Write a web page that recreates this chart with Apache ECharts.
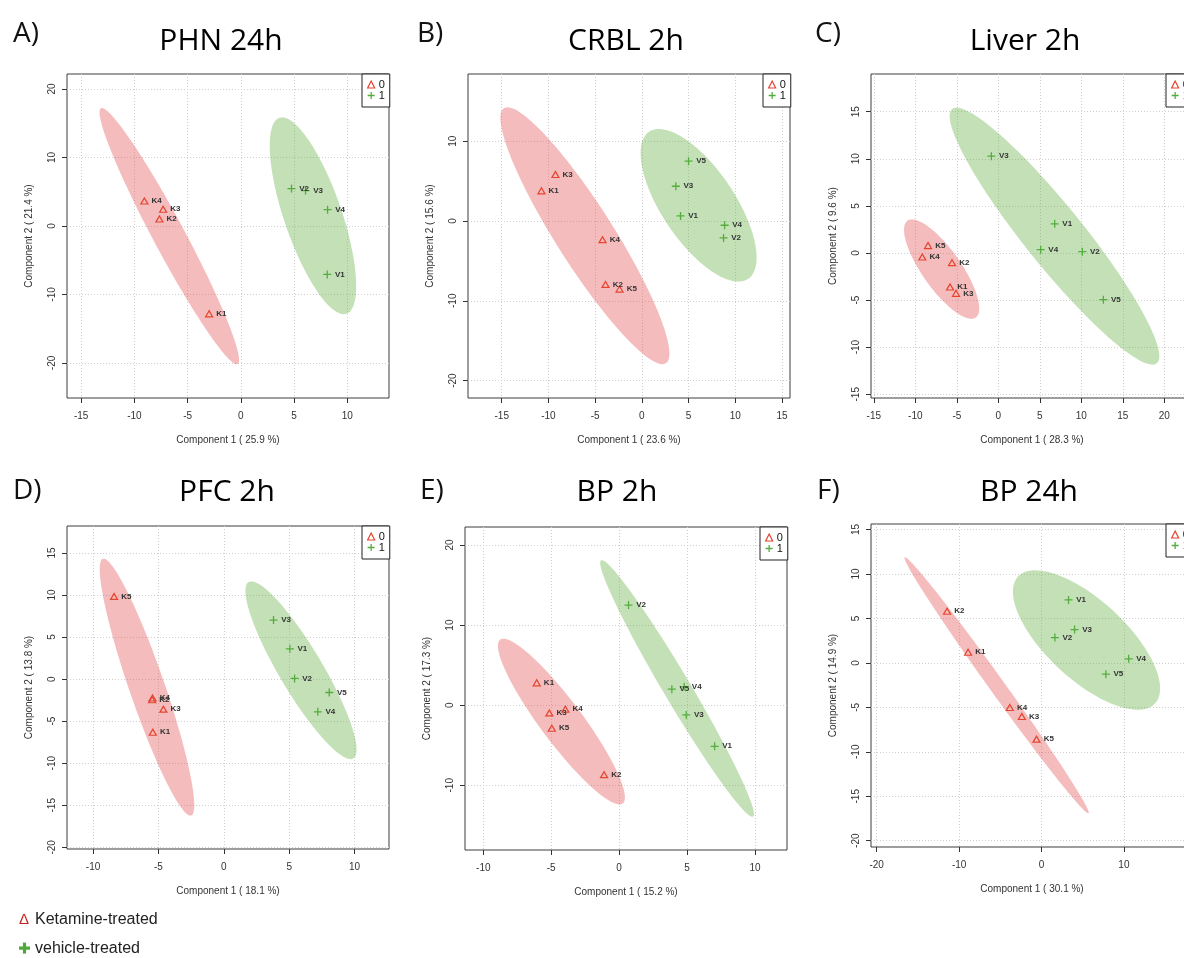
<!DOCTYPE html>
<html>
<head>
<meta charset="utf-8">
<script src="https://cdn.jsdelivr.net/npm/echarts@6/dist/echarts.min.js"></script>
<style>
  html, body { margin: 0; padding: 0; background: #ffffff; }
  #chart { width: 1184px; height: 958px; }
</style>
</head>
<body>
<div id="chart"></div>
<script>
// ---- panel headings and explained variance ----
const panelLetters = ['A)', 'B)', 'C)', 'D)', 'E)', 'F)'];
const panelTitles  = ['PHN 24h', 'CRBL 2h', 'Liver 2h', 'PFC 2h', 'BP 2h', 'BP 24h'];
const comp1Var = ['25.9', '23.6', '28.3', '18.1', '15.2', '30.1'];
const comp2Var = ['21.4', '15.6', '9.6', '13.8', '17.3', '14.9'];

// ---- sample scores [id, component 1, component 2] ----
const phn24Ket = [['K1', -2.98, -12.83], ['K2', -7.65, 1.02], ['K3', -7.30, 2.44], ['K4', -9.06, 3.66]];
const phn24Veh = [['V1', 8.12, -7.07], ['V2', 4.76, 5.46], ['V3', 6.08, 5.17], ['V4', 8.15, 2.39]];

const crbl2Ket = [['K1', -10.75, 3.77], ['K2', -3.89, -7.95], ['K3', -9.25, 5.82], ['K4', -4.21, -2.34], ['K5', -2.39, -8.54]];
const crbl2Veh = [['V1', 4.14, 0.63], ['V2', 8.75, -2.13], ['V3', 3.64, 4.35], ['V4', 8.86, -0.54], ['V5', 5.00, 7.49]];

const liver2Ket = [['K1', -5.82, -3.62], ['K2', -5.58, -1.03], ['K3', -5.10, -4.29], ['K4', -9.16, -0.43], ['K5', -8.47, 0.78]];
const liver2Veh = [['V1', 6.79, 3.09], ['V2', 10.12, 0.14], ['V3', -0.84, 10.28], ['V4', 5.10, 0.35], ['V5', 12.65, -4.96]];

const pfc2Ket = [['K1', -5.43, -6.31], ['K2', -5.48, -2.45], ['K3', -4.62, -3.57], ['K4', -5.45, -2.25], ['K5', -8.39, 9.84]];
const pfc2Veh = [['V1', 5.05, 3.61], ['V2', 5.41, 0.08], ['V3', 3.80, 7.02], ['V4', 7.19, -3.89], ['V5', 8.06, -1.59]];

const bp2Ket = [['K1', -6.07, 2.79], ['K2', -1.11, -8.67], ['K3', -5.14, -0.96], ['K4', -3.96, -0.50], ['K5', -4.96, -2.88]];
const bp2Veh = [['V1', 7.03, -5.13], ['V2', 0.69, 12.50], ['V3', 4.94, -1.21], ['V4', 4.79, 2.29], ['V5', 3.88, 2.00]];

const bp24Ket = [['K1', -8.91, 1.20], ['K2', -11.46, 5.81], ['K3', -2.39, -6.03], ['K4', -3.85, -5.02], ['K5', -0.61, -8.58]];
const bp24Veh = [['V1', 3.28, 7.08], ['V2', 1.62, 2.85], ['V3', 4.01, 3.75], ['V4', 10.57, 0.45], ['V5', 7.81, -1.27]];

// ---- 95% group ellipses: [upper tip x, upper tip y, lower tip x, lower tip y, half width] ----
const phn24KetEllipse  = [-13.10, 17.22, -0.34, -20.20, 1.60];
const phn24VehEllipse  = [3.77, 15.85, 9.78, -12.87, 2.79];
const crbl2KetEllipse  = [-14.69, 14.17, 2.50, -17.87, 3.20];
const crbl2VehEllipse  = [1.00, 11.32, 11.15, -7.40, 4.07];
const liver2KetEllipse = [-11.02, 3.37, -2.64, -6.80, 2.23];
const liver2VehEllipse = [-5.62, 15.23, 19.15, -11.67, 3.36];
const pfc2KetEllipse   = [-9.22, 14.33, -2.53, -16.23, 1.40];
const pfc2VehEllipse   = [2.00, 11.60, 9.80, -9.50, 1.80];
const bp2KetEllipse    = [-8.64, 8.28, 0.14, -12.37, 1.75];
const bp2VehEllipse    = [-1.30, 18.11, 9.83, -13.93, 1.10];
const bp24KetEllipse   = [-16.60, 11.87, 5.71, -16.92, 0.90];
const bp24VehEllipse   = [-2.98, 9.57, 13.89, -4.43, 4.60];

// ---- tick labels ----
const phn24XTicks = [-15, -10, -5, 0, 5, 10];
const phn24YTicks = [-20, -10, 0, 10, 20];
const crbl2XTicks = [-15, -10, -5, 0, 5, 10, 15];
const crbl2YTicks = [-20, -10, 0, 10];
const liver2XTicks = [-15, -10, -5, 0, 5, 10, 15, 20];
const liver2YTicks = [-15, -10, -5, 0, 5, 10, 15];
const pfc2XTicks = [-10, -5, 0, 5, 10];
const pfc2YTicks = [-20, -15, -10, -5, 0, 5, 10, 15];
const bp2XTicks = [-10, -5, 0, 5, 10];
const bp2YTicks = [-10, 0, 10, 20];
const bp24XTicks = [-20, -10, 0, 10];
const bp24YTicks = [-20, -15, -10, -5, 0, 5, 10, 15];

// ---- panel layout: plot box in pixels and visible axis ranges ----
const panels = [
  { ket: phn24Ket,  veh: phn24Veh,  ketE: phn24KetEllipse,  vehE: phn24VehEllipse,  xt: phn24XTicks,  yt: phn24YTicks,  box: [67, 74, 322, 324],  xr: [-16.33, 13.92], yr: [-25.12, 22.2],  letter: [13, 37],  title: [221, 41] },
  { ket: crbl2Ket,  veh: crbl2Veh,  ketE: crbl2KetEllipse,  vehE: crbl2VehEllipse,  xt: crbl2XTicks,  yt: crbl2YTicks,  box: [468, 74, 322, 324], xr: [-18.61, 15.86], yr: [-22.18, 18.41], letter: [417, 37], title: [626, 41] },
  { ket: liver2Ket, veh: liver2Veh, ketE: liver2KetEllipse, vehE: liver2VehEllipse, xt: liver2XTicks, yt: liver2YTicks, box: [871, 74, 322, 324], xr: [-15.34, 23.45], yr: [-15.4, 19.0],   letter: [815, 37], title: [1025, 41] },
  { ket: pfc2Ket,   veh: pfc2Veh,   ketE: pfc2KetEllipse,   vehE: pfc2VehEllipse,   xt: pfc2XTicks,   yt: pfc2YTicks,   box: [67, 526, 322, 323], xr: [-11.99, 12.63], yr: [-20.2, 18.21],  letter: [13, 494], title: [227, 492] },
  { ket: bp2Ket,    veh: bp2Veh,    ketE: bp2KetEllipse,    vehE: bp2VehEllipse,    xt: bp2XTicks,    yt: bp2YTicks,    box: [465, 527, 322, 323], xr: [-11.35, 12.36], yr: [-18.08, 22.25], letter: [420, 494], title: [617, 492] },
  { ket: bp24Ket,   veh: bp24Veh,   ketE: bp24KetEllipse,   vehE: bp24VehEllipse,   xt: bp24XTicks,   yt: bp24YTicks,   box: [871, 524, 322, 323], xr: [-20.69, 18.38], yr: [-20.71, 15.62], letter: [817, 494], title: [1029, 492] }
];

const RED = '#e5452f';
const GREEN = '#56ad3f';
const PINK_FILL = 'rgba(224,64,64,0.35)';
const GREEN_FILL = 'rgba(84,166,49,0.35)';
const PLOT_FONT = '"Liberation Sans", Arial, sans-serif';
const HEAD_FONT = '"Open Sans", "Noto Sans", sans-serif';
const PLUS_PATH = 'path://M5,0 L5,10 M0,5 L10,5';

// outline of an ellipse given its two major-axis tips and half width (data units)
function ellipseRing(spec) {
  const [x1, y1, x2, y2, h] = spec;
  const cx = (x1 + x2) / 2, cy = (y1 + y2) / 2;
  const ux = (x1 - x2) / 2, uy = (y1 - y2) / 2;
  const len = Math.hypot(ux, uy);
  const vx = -uy / len * h, vy = ux / len * h;
  const ring = [];
  for (let k = 0; k < 120; k++) {
    const th = 2 * Math.PI * k / 120;
    const c = Math.cos(th), s = Math.sin(th);
    ring.push([cx + c * ux + s * vx, cy + c * uy + s * vy]);
  }
  return { centre: [cx, cy], ring: ring };
}

function ellipseSeries(spec, idx, fill) {
  const e = ellipseRing(spec);
  return {
    type: 'custom',
    name: 'ellipse',
    xAxisIndex: idx, yAxisIndex: idx,
    z: 1,
    silent: true,
    data: [e.centre],
    renderItem: function (params, api) {
      return {
        type: 'polygon',
        shape: { points: e.ring.map(p => api.coord(p)) },
        style: { fill: fill, stroke: null }
      };
    }
  };
}

function pointLabel() {
  return {
    show: true, position: 'right', distance: 3,
    formatter: '{b}', fontSize: 8, fontWeight: 'bold', color: '#333', fontFamily: PLOT_FONT
  };
}

const grids = [], xAxes = [], yAxes = [], series = [], legends = [], graphics = [];

panels.forEach((p, i) => {
  const [gl, gt, gw, gh] = p.box;
  grids.push({
    left: gl, top: gt, width: gw, height: gh,
    outerBoundsMode: 'none', containLabel: false,
    show: true, borderColor: '#3c3c3c', borderWidth: 1, backgroundColor: 'transparent'
  });
  const commonAxis = {
    type: 'value',
    gridIndex: i,
    axisLine: { show: false, onZero: false },
    splitLine: { show: true, lineStyle: { color: '#cfcfcf', width: 1, type: [1, 2] } },
    nameLocation: 'middle',
    nameTextStyle: { fontSize: 10, color: '#333', fontFamily: PLOT_FONT }
  };
  xAxes.push(Object.assign({}, commonAxis, {
    min: p.xr[0], max: p.xr[1],
    axisTick: { show: true, length: 5, customValues: p.xt, lineStyle: { color: '#333' } },
    axisLabel: { customValues: p.xt, fontSize: 10, color: '#333', margin: 13, fontFamily: PLOT_FONT },
    name: 'Component 1 ( ' + comp1Var[i] + ' %)',
    nameGap: 37
  }));
  yAxes.push(Object.assign({}, commonAxis, {
    min: p.yr[0], max: p.yr[1],
    axisTick: { show: true, length: 5, customValues: p.yt, lineStyle: { color: '#333' } },
    axisLabel: { customValues: p.yt, rotate: 90, fontSize: 10, color: '#333', margin: 10, fontFamily: PLOT_FONT },
    name: 'Component 2 ( ' + comp2Var[i] + ' %)',
    nameGap: 33
  }));

  series.push(ellipseSeries(p.ketE, i, PINK_FILL));
  series.push(ellipseSeries(p.vehE, i, GREEN_FILL));
  series.push({
    type: 'scatter', name: '0', xAxisIndex: i, yAxisIndex: i, z: 3,
    symbol: 'triangle', symbolSize: [7, 6],
    itemStyle: { color: 'rgba(0,0,0,0)', borderColor: RED, borderWidth: 1.2, opacity: 1 },
    label: pointLabel(),
    emphasis: { disabled: true },
    data: p.ket.map(r => ({ name: r[0], value: [r[1], r[2]] }))
  });
  series.push({
    type: 'scatter', name: '1', xAxisIndex: i, yAxisIndex: i, z: 3,
    symbol: PLUS_PATH, symbolSize: 8,
    itemStyle: { color: GREEN, borderColor: GREEN, borderWidth: 1.3, opacity: 1 },
    label: pointLabel(),
    emphasis: { disabled: true },
    data: p.veh.map(r => ({ name: r[0], value: [r[1], r[2]] }))
  });

  legends.push({
    left: gl + gw - 27, top: gt,
    orient: 'vertical',
    padding: [5, 5, 6, 5],
    itemWidth: 7, itemHeight: 7, itemGap: 0,
    borderColor: '#222', borderWidth: 1, borderRadius: 0,
    backgroundColor: '#fff',
    selectedMode: false,
    textStyle: { fontSize: 11, color: '#111', fontFamily: PLOT_FONT, padding: [0, 0, 0, -1] },
    data: [
      { name: '0', icon: 'triangle', itemStyle: { color: 'rgba(0,0,0,0)', borderColor: RED, borderWidth: 1.2 } },
      { name: '1', icon: PLUS_PATH, itemStyle: { color: GREEN, borderColor: GREEN, borderWidth: 1.3 } }
    ]
  });

  graphics.push({
    type: 'text', left: p.letter[0], top: p.letter[1] - 17, silent: true,
    style: { text: panelLetters[i], fontSize: 28, fontFamily: HEAD_FONT, fill: '#111' }
  });
  graphics.push({
    type: 'text', x: p.title[0], y: p.title[1], silent: true,
    style: { text: panelTitles[i], fontSize: 30, fontFamily: HEAD_FONT, fill: '#000', align: 'center', verticalAlign: 'middle' }
  });
});

// treatment key below the panels
graphics.push({
  type: 'text', x: 19, y: 920, silent: true,
  style: { text: 'Δ', fontSize: 15, fontFamily: PLOT_FONT, fill: '#cc2222', verticalAlign: 'middle' }
});
graphics.push({
  type: 'text', x: 35, y: 920, silent: true,
  style: { text: 'Ketamine-treated', fontSize: 16, fontFamily: PLOT_FONT, fill: '#222', verticalAlign: 'middle' }
});
graphics.push({ type: 'rect', silent: true, shape: { x: 19, y: 946.5, width: 11, height: 3.2 }, style: { fill: '#4fa83a' } });
graphics.push({ type: 'rect', silent: true, shape: { x: 22.9, y: 942.6, width: 3.2, height: 11 }, style: { fill: '#4fa83a' } });
graphics.push({
  type: 'text', x: 35, y: 949, silent: true,
  style: { text: 'vehicle-treated', fontSize: 16, fontFamily: PLOT_FONT, fill: '#222', verticalAlign: 'middle' }
});

const chart = echarts.init(document.getElementById('chart'), null, { renderer: 'canvas' });
chart.setOption({
  backgroundColor: '#ffffff',
  animation: false,
  grid: grids,
  xAxis: xAxes,
  yAxis: yAxes,
  legend: legends,
  series: series,
  graphic: graphics
});
</script>
</body>
</html>
